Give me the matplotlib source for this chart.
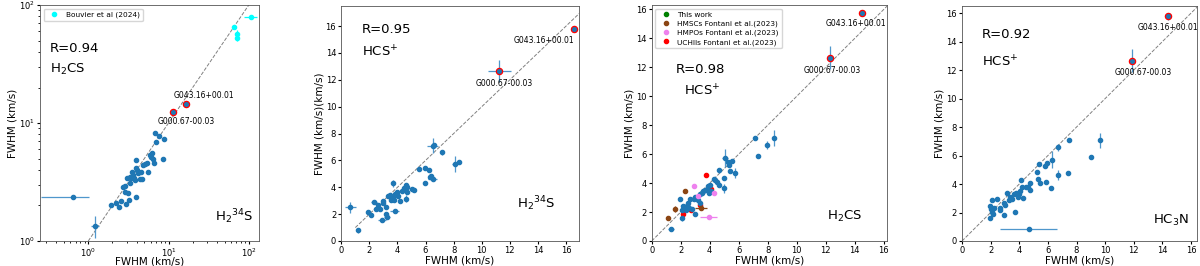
import matplotlib
matplotlib.use("Agg")
import matplotlib.pyplot as plt
from matplotlib.lines import Line2D
import numpy as np

# ---- panel 1: H2CS vs H2^34S (log) ----
p1_x = [0.64, 1.23, 1.94, 2.19, 2.41, 2.57, 2.71, 2.84, 2.98, 3.07, 3.13, 3.22, 3.28, 3.44,
        3.55, 3.68, 3.79, 3.9, 3.9, 3.98, 4.17, 4.38, 4.6, 4.82, 5.05, 5.4, 4.73, 5.56, 5.84,
        6.0, 6.3, 6.43, 6.55, 6.74, 6.94, 7.63, 8.81, 8.57, 3.35, 2.9, 3.6, 4.1]
p1_y = [2.37, 1.34, 2.02, 2.09, 1.95, 2.2, 2.85, 2.62, 2.06, 3.4, 2.57, 2.22, 3.08, 3.4,
        3.86, 3.44, 3.29, 4.86, 2.37, 4.13, 3.75, 3.33, 3.86, 4.41, 4.49, 4.55, 3.33, 3.86, 5.36,
        5.18, 5.53, 4.93, 4.55, 8.18, 6.95, 7.76, 7.28, 4.93, 3.5, 2.9, 3.6, 4.0]
p1_xe = [0.38, 0.15] + [0] * 40
p1_ye = [0.0, 0.28] + [0] * 40
p1_hx = [11.25, 16.6]
p1_hy = [12.3, 14.5]
bouv_x = [65.5, 70.8, 72.0, 106.0]
bouv_y = [64.7, 56.5, 52.8, 79.5]
bouv_xe = [0, 0, 0, 20]
bouv_ye = [0, 5, 3, 0]

# ---- panel 2: HCS+ vs H2^34S ----
p2_x = [0.65, 1.2, 1.9, 2.1, 2.35, 2.45, 2.6, 2.75, 2.9, 2.95, 3.0, 3.15, 3.15, 3.25, 3.3,
        3.5, 3.55, 3.7, 3.7, 3.8, 3.75, 3.8, 3.95, 4.05, 4.2, 4.3, 4.45, 4.6, 4.7, 4.6, 4.65,
        5.0, 5.2, 5.55, 5.95, 5.95, 6.25, 6.3, 6.4, 6.5, 6.5, 6.6, 7.2, 8.1, 8.4]
p2_y = [2.5, 0.8, 2.17, 1.93, 2.93, 2.35, 2.67, 2.35, 1.58, 2.85, 2.97, 2.55, 1.98, 1.8, 3.35,
        3.42, 3.05, 4.3, 3.3, 3.5, 3.05, 2.25, 3.67, 3.35, 3.0, 3.75, 3.97, 4.17, 4.05, 3.15, 3.67,
        3.9, 3.8, 5.37, 5.47, 4.35, 5.25, 4.75, 4.87, 4.62, 7.1, 7.12, 6.6, 5.75, 5.87]
p2_xe = [0.4, 0.1, 0, 0, 0.2, 0, 0, 0, 0.25, 0, 0, 0, 0.1, 0.2, 0,
         0, 0, 0.1, 0, 0, 0, 0.3, 0, 0, 0, 0, 0, 0, 0, 0, 0,
         0, 0, 0, 0, 0, 0, 0, 0, 0.3, 0.4, 0, 0, 0.2, 0]
p2_ye = [0.4, 0.2, 0, 0, 0.1, 0, 0, 0, 0.1, 0.1, 0, 0, 0, 0, 0,
         0, 0, 0.25, 0, 0, 0.15, 0.15, 0, 0, 0, 0, 0, 0, 0, 0.25, 0.1,
         0, 0, 0, 0, 0.1, 0, 0, 0, 0, 0.55, 0, 0.2, 0.6, 0]
p2_hx = [11.25, 16.6]
p2_hy = [12.67, 15.78]
p2_hxe = [0.8, 0.1]
p2_hye = [0.8, 0.2]

# ---- panel 3: HCS+ vs H2CS ----
p3_x = [1.32, 1.95, 2.07, 2.07, 2.18, 2.3, 2.37, 2.41, 2.53, 2.48, 2.6, 2.64, 2.76, 2.92, 3.0,
        3.0, 3.22, 3.3, 3.34, 3.46, 3.57, 3.69, 3.8, 3.87, 3.92, 4.0, 4.08, 4.27, 4.39, 4.5,
        4.62, 4.66, 4.97, 4.97, 5.03, 5.24, 5.31, 5.43, 5.55, 5.73, 7.1, 7.33, 7.93, 8.45]
p3_y = [0.81, 2.9, 2.14, 1.56, 2.42, 2.33, 2.14, 2.42, 2.33, 2.6, 2.26, 2.9, 2.19, 2.9, 1.86,
        3.07, 2.84, 3.26, 2.6, 3.35, 3.42, 3.49, 3.53, 3.77, 3.3, 3.88, 3.47, 4.28, 4.19, 4.05,
        3.88, 4.88, 4.35, 3.65, 5.74, 5.44, 5.28, 4.81, 5.51, 4.7, 7.14, 5.9, 6.63, 7.09]
p3_xe = [0.2, 0, 0, 0, 0, 0, 0, 0, 0, 0, 0, 0, 0, 0, 0,
         0, 0, 0, 0, 0, 0, 0, 0, 0, 0, 0, 0, 0, 0, 0,
         0, 0, 0, 0.1, 0.2, 0, 0, 0, 0, 0.1, 0, 0, 0, 0]
p3_ye = [0.1, 0.1, 0, 0.15, 0, 0, 0, 0.35, 0, 0, 0, 0, 0, 0.15, 0,
         0, 0, 0, 0.15, 0, 0, 0, 0, 0, 0, 0, 0, 0, 0, 0,
         0, 0.15, 0.1, 0.3, 0.6, 0, 0, 0, 0, 0.35, 0, 0, 0.25, 0.55]
p3_hx = [12.3, 14.5]
p3_hy = [12.67, 15.78]
p3_hxe = [0.0, 0.0]
p3_hye = [0.8, 0.2]
hmsc_x = [1.09, 1.6, 2.3, 3.41]
hmsc_y = [1.6, 2.19, 3.42, 2.26]
hmsc_xe = [0.1, 0, 0, 0.4]
hmsc_ye = [0.1, 0.2, 0, 0.1]
hmpo_x = [2.92, 3.22, 4.32, 3.92]
hmpo_y = [3.77, 3.12, 3.3, 1.67]
hmpo_xe = [0, 0, 0, 0.6]
uchii_x = [2.18, 2.69, 3.34, 3.73, 4.1]
uchii_y = [1.86, 2.14, 2.49, 4.53, 3.6]

# ---- panel 4: HCS+ vs HC3N ----
p4_x = [1.92, 1.92, 2.02, 2.09, 2.16, 2.21, 2.09, 2.44, 2.63, 2.68, 2.91, 2.91, 3.03, 3.15,
        3.26, 3.38, 3.5, 3.62, 3.69, 3.8, 3.9, 3.97, 4.08, 4.13, 4.2, 4.27, 4.44, 4.6, 4.74,
        4.74, 5.21, 5.38, 5.31, 5.45, 5.77, 5.92, 5.89, 6.24, 6.31, 6.71, 6.71, 7.49, 7.42,
        9.01, 9.65, 4.65]
p4_y = [1.58, 2.45, 2.28, 2.87, 1.93, 2.35, 2.05, 2.94, 2.35, 2.21, 1.86, 2.64, 2.52, 3.39,
        2.87, 3.06, 2.92, 3.29, 2.05, 3.39, 3.06, 3.29, 3.53, 4.28, 3.81, 3.04, 3.76, 3.81, 3.58,
        4.09, 4.87, 5.41, 4.33, 4.05, 5.29, 5.46, 4.14, 3.69, 5.69, 6.59, 4.64, 7.11, 4.8,
        5.88, 7.06, 0.82]
p4_xe = [0, 0, 0, 0, 0, 0, 0, 0, 0, 0, 0.1, 0, 0, 0,
         0, 0, 0, 0, 0, 0, 0, 0, 0, 0, 0, 0, 0, 0, 0,
         0, 0, 0, 0, 0, 0, 0, 0, 0.1, 0, 0, 0, 0, 0.1,
         0, 0, 1.97]
p4_ye = [0.1, 0.15, 0.3, 0.1, 0, 0, 0, 0, 0, 0, 0, 0, 0, 0,
         0, 0, 0, 0, 0, 0, 0, 0, 0, 0.15, 0, 0, 0, 0, 0.1,
         0.1, 0.1, 0, 0, 0, 0, 0, 0, 0, 0.6, 0.25, 0.35, 0, 0,
         0, 0.55, 0.1]
p4_hx = [11.9, 14.4]
p4_hy = [12.67, 15.78]
p4_hxe = [0.0, 0.0]
p4_hye = [0.8, 0.25]

src_names = ["G000.67-00.03", "G043.16+00.01"]

BLUE = "#1f77b4"
ELINE = "#4f97cc"

fig = plt.figure(figsize=(12, 2.66), dpi=100)
axes = [fig.add_axes([0.0333, 0.094, 0.1825, 0.887]),
        fig.add_axes([0.2844, 0.094, 0.1978, 0.8835]),
        fig.add_axes([0.5431, 0.094, 0.1958, 0.887]),
        fig.add_axes([0.8017, 0.094, 0.1956, 0.8835])]


def base(ax, x, y, xe, ye):
    ax.errorbar(x, y, xerr=xe, yerr=ye, fmt='o', ms=3, color=BLUE, ecolor=ELINE,
                elinewidth=0.9, capsize=0, zorder=3)


def highlight(ax, hx, hy, hxe, hye, offs):
    ax.errorbar(hx, hy, xerr=hxe, yerr=hye, fmt='none', ecolor=ELINE, elinewidth=0.9, zorder=3)
    ax.plot(hx, hy, 'o', ms=4.5, mfc=BLUE, mec='red', mew=0.9, zorder=4)
    for i in range(2):
        ax.annotate(src_names[i], (hx[i], hy[i]), xytext=offs[i], textcoords='offset points',
                    ha='center', va='center', fontsize=5.5)


def dot(c, label):
    return Line2D([], [], marker='o', ms=3, ls='none', color=c, label=label)


# panel 1
ax = axes[0]
ax.set_xscale('log')
ax.set_yscale('log')
ax.plot([1, 150], [1, 150], '--', color='gray', lw=0.7, zorder=1)
base(ax, p1_x, p1_y, p1_xe, p1_ye)
ax.errorbar(bouv_x, bouv_y, xerr=bouv_xe, yerr=bouv_ye, fmt='o', ms=3, color='cyan',
            elinewidth=0.9, zorder=3)
highlight(ax, p1_hx, p1_hy, [0, 0], [0, 0], [(10, -6.8), (12.5, 5.8)])
ax.set_xlim(0.25, 134)
ax.set_ylim(1, 100)
ax.legend(handles=[dot('cyan', 'Bouvier et al (2024)')], loc='upper left', fontsize=5.3,
          handletextpad=0.6, borderpad=0.4)
ax.text(0.046, 0.817, 'R=0.94', transform=ax.transAxes, fontsize=9.5, va='center')
ax.text(0.046, 0.725, 'H$_2$CS', transform=ax.transAxes, fontsize=9.5, va='center')
ax.text(0.80, 0.103, 'H$_2$$^{34}$S', transform=ax.transAxes, fontsize=9.5, va='center')
ax.set_ylabel('FWHM (km/s)', fontsize=7.5, labelpad=1)

# panel 2
ax = axes[1]
ax.plot([1, 17.5], [1, 17.5], '--', color='gray', lw=0.7, zorder=1)
base(ax, p2_x, p2_y, p2_xe, p2_ye)
highlight(ax, p2_hx, p2_hy, p2_hxe, p2_hye, [(3.6, -9.4), (-22, -8)])
ax.set_xlim(0, 16.9)
ax.set_ylim(0, 17.5)
ax.text(0.086, 0.90, 'R=0.95', transform=ax.transAxes, fontsize=9.5, va='center')
ax.text(0.086, 0.805, 'HCS$^{+}$', transform=ax.transAxes, fontsize=9.5, va='center')
ax.text(0.74, 0.16, 'H$_2$$^{34}$S', transform=ax.transAxes, fontsize=9.5, va='center')
ax.set_ylabel('FWHM (km/s)(km/s)', fontsize=7.5, labelpad=1)

# panel 3
ax = axes[2]
ax.plot([0, 16.3], [0, 16.3], '--', color='gray', lw=0.7, zorder=1)
base(ax, p3_x, p3_y, p3_xe, p3_ye)
ax.errorbar(hmsc_x, hmsc_y, xerr=hmsc_xe, yerr=hmsc_ye, fmt='o', ms=3, color='saddlebrown',
            elinewidth=0.9, zorder=3)
ax.errorbar(hmpo_x, hmpo_y, xerr=hmpo_xe, fmt='o', ms=3, color='violet',
            elinewidth=0.9, zorder=3)
ax.plot(uchii_x, uchii_y, 'o', ms=3, color='red', zorder=3)
highlight(ax, p3_hx, p3_hy, p3_hxe, p3_hye, [(1.2, -9.4), (-4.3, -8.2)])
ax.set_xlim(0, 16.2)
ax.set_ylim(0, 16.3)
ax.legend(handles=[dot('green', 'This work'),
                   dot('saddlebrown', 'HMSCs Fontani et al.(2023)'),
                   dot('violet', 'HMPOs Fontani et al.(2023)'),
                   dot('red', 'UCHIIs Fontani et al.(2023)')],
          loc='upper left', fontsize=5.3, handletextpad=0.6, borderpad=0.4, labelspacing=0.35)
ax.text(0.103, 0.725, 'R=0.98', transform=ax.transAxes, fontsize=9.5, va='center')
ax.text(0.137, 0.637, 'HCS$^{+}$', transform=ax.transAxes, fontsize=9.5, va='center')
ax.text(0.745, 0.103, 'H$_2$CS', transform=ax.transAxes, fontsize=9.5, va='center')
ax.set_ylabel('FWHM (km/s)', fontsize=7.5, labelpad=1)

# panel 4
ax = axes[3]
ax.plot([0, 16.5], [0, 16.5], '--', color='gray', lw=0.7, zorder=1)
base(ax, p4_x, p4_y, p4_xe, p4_ye)
highlight(ax, p4_hx, p4_hy, p4_hxe, p4_hye, [(8, -8.9), (0, -8.4)])
ax.set_xlim(0, 16.4)
ax.set_ylim(0, 16.5)
ax.text(0.084, 0.877, 'R=0.92', transform=ax.transAxes, fontsize=9.5, va='center')
ax.text(0.084, 0.763, 'HCS$^{+}$', transform=ax.transAxes, fontsize=9.5, va='center')
ax.text(0.815, 0.089, 'HC$_3$N', transform=ax.transAxes, fontsize=9.5, va='center')
ax.set_ylabel('FWHM (km/s)', fontsize=7.5, labelpad=1)

for a in axes:
    a.set_xlabel('FWHM (km/s)', fontsize=7.5, labelpad=0)
    a.tick_params(labelsize=6, length=2.5, pad=1.2)
    a.tick_params(which='minor', length=1.5)
    for s in a.spines.values():
        s.set_linewidth(0.6)
        s.set_color('#555555')
axes[0].set_xlabel('FWHM (km/s)', fontsize=7.5, labelpad=-1.5)

fig.savefig('out.png', dpi=100)
